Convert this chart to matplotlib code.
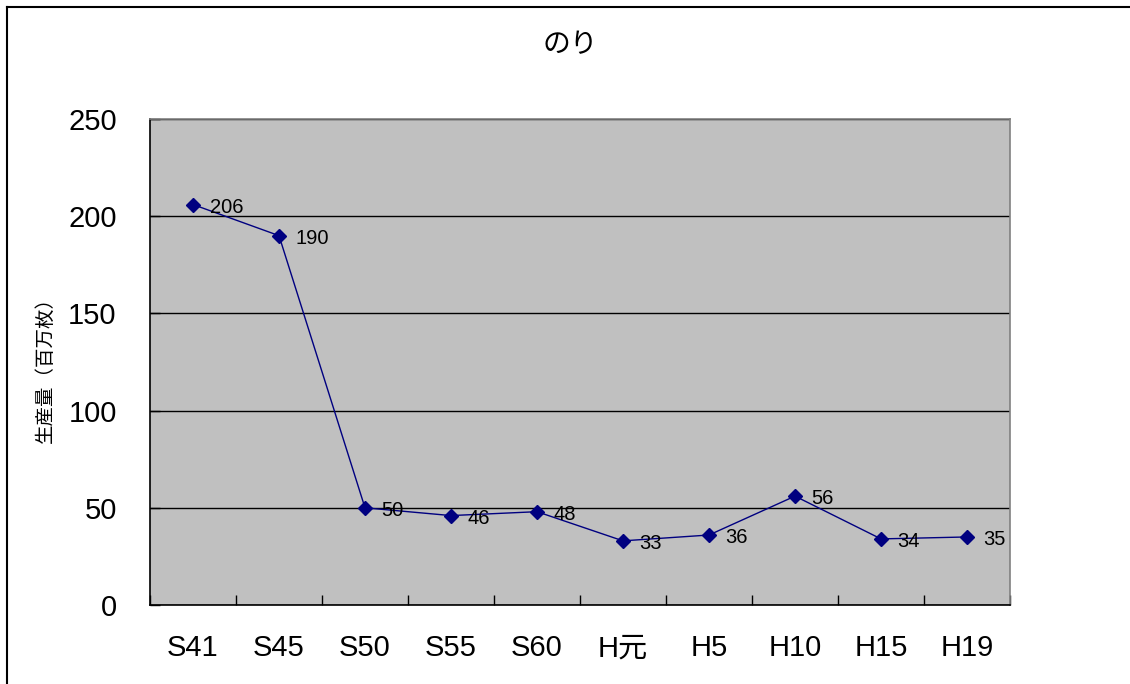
import matplotlib.pyplot as plt
import numpy as np
from matplotlib.lines import Line2D

# data
categories = ['S41', 'S45', 'S50', 'S55', 'S60', 'H元', 'H5', 'H10', 'H15', 'H19']
production = [206, 190, 50, 46, 48, 33, 36, 56, 34, 35]

fonts = ['Liberation Sans', 'Noto Sans CJK JP', 'DejaVu Sans']
plt.rcParams['font.family'] = fonts

fig = plt.figure(figsize=(11.3, 6.84), dpi=100)
ax = fig.add_axes([150 / 1130, 1 - 605 / 684, 860 / 1130, 486 / 684])
ax.set_facecolor('#c0c0c0')

x = np.arange(len(categories))
ax.plot(x, production, color='#000080', linewidth=1.0, marker='D',
        markersize=7.5, markerfacecolor='#000080', markeredgecolor='#000080', zorder=3)

for xi, v in zip(x, production):
    ax.annotate(str(v), xy=(xi, v), xytext=(12, -2), textcoords='offset points',
                ha='left', va='center', fontsize=14.5, color='black', zorder=4)

ax.set_xlim(-0.5, len(categories) - 0.5)
ax.set_ylim(0, 250)
ax.set_yticks(range(0, 251, 50))
ax.yaxis.grid(True, color='black', linewidth=1.0)
ax.set_axisbelow(True)

ax.set_xticks(x)
ax.set_xticklabels(categories)
ax.set_xticks(np.arange(-0.5, len(categories)), minor=True)
ax.tick_params(axis='x', which='major', length=0, pad=21, labelsize=21)
ax.tick_params(axis='x', which='minor', direction='in', length=7, width=1, color='black')
ax.tick_params(axis='y', direction='in', length=7, width=1, pad=24, labelsize=21)

for s in ['left', 'bottom']:
    ax.spines[s].set_color('black')
    ax.spines[s].set_linewidth(1.2)
for s in ['top', 'right']:
    ax.spines[s].set_color('#808080')
    ax.spines[s].set_linewidth(1.2)

fig.text(570 / 1130, 1 - 45 / 684, 'のり', ha='center', va='center', fontsize=20)
fig.text(45 / 1130, 1 - 365 / 684, '生産量（百万枚）', ha='center', va='center',
         rotation=90, fontsize=14)

# outer chart frame (left and top edges visible)
fig.add_artist(Line2D([7 / 1130, 7 / 1130], [0, 1 - 7 / 684], transform=fig.transFigure,
                      color='black', linewidth=1.5))
fig.add_artist(Line2D([7 / 1130, 1], [1 - 7 / 684, 1 - 7 / 684], transform=fig.transFigure,
                      color='black', linewidth=1.5))

fig.savefig('out.png', dpi=100)
